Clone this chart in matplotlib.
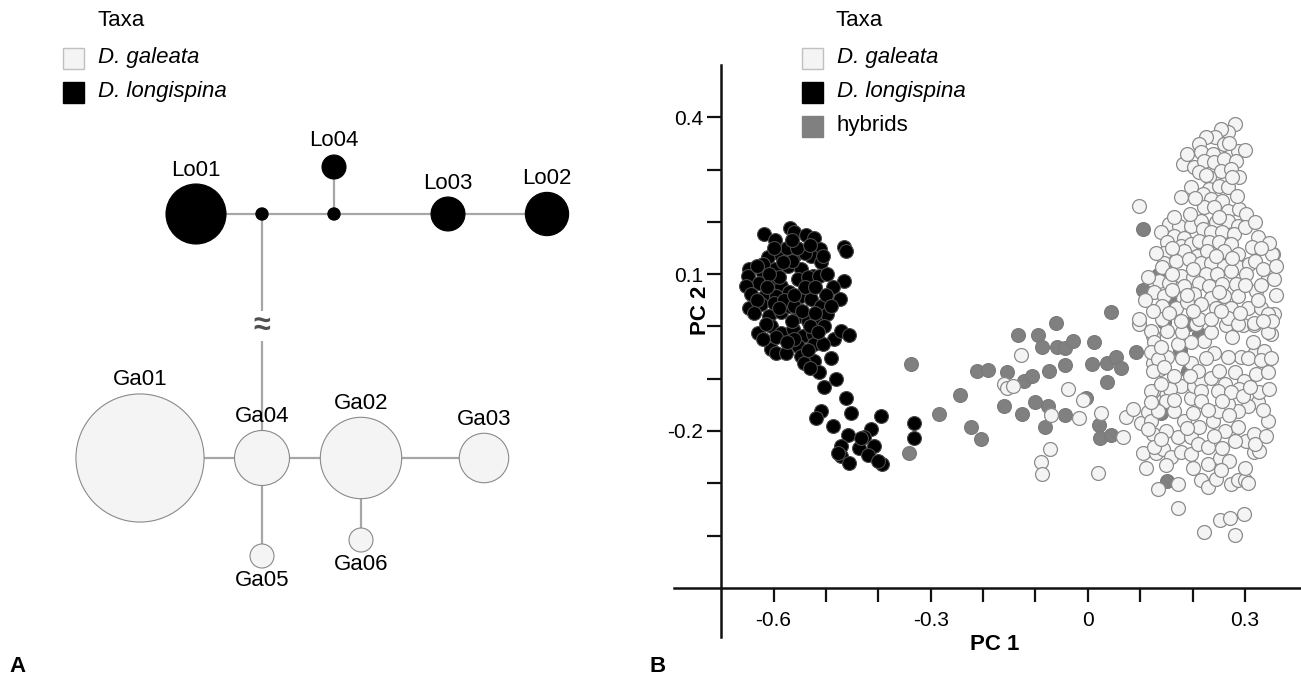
import numpy as np
import matplotlib
matplotlib.use("Agg")
import matplotlib.pyplot as plt
from matplotlib.patches import Circle, Rectangle

plt.rcParams['font.family'] = ['Liberation Sans', 'DejaVu Sans']

# ---- haplotype network (A) ----
haplotypes = ["Lo01", "Lo02", "Lo03", "Lo04", "Ga01", "Ga02", "Ga03", "Ga04", "Ga05", "Ga06"]
hap_counts = [25, 13, 8, 4, 114, 46, 17, 21, 4, 4]
hap_taxon = ["L", "L", "L", "L", "G", "G", "G", "G", "G", "G"]
median_vectors = ["mv1", "mv2"]
edges = [("Lo01", "mv1"), ("mv1", "mv2"), ("mv2", "Lo04"), ("mv2", "Lo03"),
         ("Lo03", "Lo02"), ("mv1", "Ga04"), ("Ga01", "Ga04"), ("Ga04", "Ga02"),
         ("Ga02", "Ga03"), ("Ga04", "Ga05"), ("Ga02", "Ga06")]
labels_below = ["Ga05", "Ga06"]

# ---- PCA scores (B) ----
longispina = [
    (-0.568, 0.188), (-0.619, 0.177), (-0.598, 0.166), (-0.560, 0.181), (-0.538, 0.174),
    (-0.523, 0.169), (-0.512, 0.148), (-0.465, 0.151), (-0.462, 0.145), (-0.611, 0.132),
    (-0.586, 0.137), (-0.560, 0.134), (-0.528, 0.135), (-0.509, 0.123), (-0.646, 0.110),
    (-0.621, 0.103), (-0.598, 0.110), (-0.573, 0.116), (-0.547, 0.110), (-0.525, 0.097),
    (-0.649, 0.097), (-0.627, 0.084), (-0.605, 0.087), (-0.586, 0.078), (-0.554, 0.091),
    (-0.535, 0.094), (-0.514, 0.096), (-0.465, 0.087), (-0.487, 0.075), (-0.474, 0.052),
    (-0.652, 0.078), (-0.643, 0.062), (-0.617, 0.059), (-0.595, 0.059), (-0.570, 0.065),
    (-0.547, 0.059), (-0.528, 0.052), (-0.509, 0.039), (-0.646, 0.036), (-0.624, 0.043),
    (-0.608, 0.020), (-0.586, 0.027), (-0.570, 0.039), (-0.554, 0.020), (-0.535, 0.011),
    (-0.512, 0.014), (-0.497, 0.023), (-0.630, -0.012), (-0.605, 0.001), (-0.586, -0.012),
    (-0.563, -0.005), (-0.544, -0.018), (-0.525, -0.015), (-0.503, 0.001), (-0.484, -0.024),
    (-0.471, -0.008), (-0.455, -0.017), (-0.605, -0.044), (-0.595, -0.050), (-0.576, -0.050),
    (-0.554, -0.037), (-0.547, -0.056), (-0.522, -0.034), (-0.506, -0.034), (-0.522, -0.066),
    (-0.541, -0.069), (-0.514, -0.088), (-0.481, -0.100), (-0.504, -0.115), (-0.462, -0.136),
    (-0.509, -0.162), (-0.519, -0.175), (-0.452, -0.165), (-0.395, -0.171), (-0.487, -0.191),
    (-0.458, -0.207), (-0.414, -0.197), (-0.427, -0.211), (-0.408, -0.229), (-0.471, -0.229),
    (-0.436, -0.232), (-0.471, -0.248), (-0.420, -0.246), (-0.455, -0.261), (-0.392, -0.264),
    (-0.401, -0.258), (-0.477, -0.242), (-0.433, -0.213), (-0.600, 0.045), (-0.580, 0.050),
    (-0.560, 0.040), (-0.590, 0.095), (-0.565, 0.125), (-0.540, 0.140), (-0.575, 0.150),
    (-0.620, 0.120), (-0.545, 0.030), (-0.530, 0.000), (-0.560, -0.025), (-0.540, 0.075),
    (-0.615, 0.005), (-0.500, 0.060), (-0.332, -0.184), (-0.332, -0.213),
    (-0.632, 0.115), (-0.608, 0.100), (-0.582, 0.123), (-0.556, 0.150), (-0.530, 0.155),
    (-0.505, 0.135), (-0.498, 0.100), (-0.520, 0.075), (-0.560, 0.060), (-0.612, 0.075),
    (-0.632, 0.050), (-0.590, 0.035), (-0.565, 0.010), (-0.520, 0.025), (-0.490, 0.040),
    (-0.595, -0.020), (-0.575, -0.030), (-0.535, -0.045), (-0.515, -0.010), (-0.565, 0.165),
    (-0.600, 0.150), (-0.638, 0.025), (-0.620, -0.025), (-0.490, -0.060), (-0.530, -0.080),
]

hybrids = [
    (-0.338, -0.071), (-0.341, -0.243), (-0.284, -0.168), (-0.244, -0.131), (-0.223, -0.193),
    (-0.203, -0.216), (-0.212, -0.086), (-0.191, -0.083), (-0.155, -0.088), (-0.134, -0.016),
    (-0.121, -0.104), (-0.106, -0.094), (-0.096, -0.016), (-0.088, -0.039), (-0.061, 0.006),
    (-0.059, -0.039), (-0.043, -0.041), (-0.029, -0.027), (-0.074, -0.085), (-0.044, -0.073),
    (-0.160, -0.152), (-0.125, -0.168), (-0.101, -0.145), (-0.077, -0.152), (-0.081, -0.193),
    (-0.043, -0.169), (-0.004, -0.136), (0.011, -0.029), (0.008, -0.071), (0.036, -0.069),
    (0.053, -0.058), (0.063, -0.080), (0.036, -0.107), (0.044, 0.027), (0.022, -0.188),
    (0.024, -0.214), (0.044, -0.207), (0.105, 0.187), (0.105, 0.069), (0.092, -0.048),
    (0.152, -0.295), (0.134, 0.098), (0.162, 0.050), (0.193, 0.005), (0.140, -0.165),
    (0.191, -0.085), (0.176, -0.045), (0.213, -0.014), (0.146, 0.008),
]

galeata = [
    # spread between the groups
    (-0.127, -0.055), (-0.160, -0.110), (-0.155, -0.118), (-0.142, -0.113), (-0.038, -0.119),
    (-0.010, -0.141), (-0.071, -0.169), (-0.017, -0.176), (0.025, -0.165), (0.072, -0.173),
    (0.068, -0.211), (-0.072, -0.235), (-0.090, -0.259), (-0.087, -0.283), (0.020, -0.280),
    # lower part of the main group
    (0.086, -0.158), (0.102, -0.184), (0.134, -0.310), (0.173, -0.302), (0.173, -0.348),
    (0.221, -0.394), (0.280, -0.398), (0.253, -0.371), (0.272, -0.367), (0.298, -0.358),
    (0.216, -0.294), (0.229, -0.308), (0.245, -0.292), (0.273, -0.302), (0.286, -0.294),
    (0.300, -0.294), (0.305, -0.299), (0.105, -0.243), (0.111, -0.270), (0.130, -0.243),
    (0.143, -0.235), (0.159, -0.250), (0.177, -0.241), (0.196, -0.244), (0.229, -0.264),
    (0.253, -0.251), (0.270, -0.257), (0.318, -0.241), (0.172, -0.212), (0.197, -0.211),
    (0.210, -0.225), (0.229, -0.230), (0.257, -0.232), (0.124, -0.206), (0.114, -0.163),
    (0.121, -0.181), (0.140, -0.133), (0.127, -0.139), (0.124, -0.123), (0.184, -0.181),
    (0.213, -0.193), (0.238, -0.181), (0.261, -0.200), (0.286, -0.193), (0.302, -0.219),
    (0.318, -0.206), (0.343, -0.181), (0.324, -0.145), (0.305, -0.152), (0.286, -0.161),
    (0.267, -0.149), (0.248, -0.161), (0.197, -0.136), (0.178, -0.114), (0.156, -0.120),
    (0.203, -0.114), (0.216, -0.104), (0.235, -0.098), (0.261, -0.110), (0.280, -0.088),
    (0.299, -0.104), (0.321, -0.091), (0.343, -0.088), (0.318, -0.053), (0.350, -0.015),
    (0.337, -0.047), (0.315, -0.030), (0.292, -0.059), (0.267, -0.059), (0.241, -0.050),
    (0.222, -0.027), (0.197, -0.030), (0.172, -0.034), (0.152, -0.008), (0.124, -0.018),
    (0.124, -0.069), (0.137, -0.082), (0.152, -0.059), (0.197, -0.069), (0.210, -0.085),
    (0.289, -0.120), (0.248, -0.123), (0.273, -0.126), (0.257, -0.142), (0.296, -0.133),
    (0.327, -0.126), (0.216, -0.123), (0.216, -0.142), (0.264, 0.002), (0.296, 0.002),
    (0.318, 0.002), (0.206, 0.005), (0.098, 0.005), (0.114, -0.196), (0.127, -0.231),
    (0.121, -0.008), (0.127, -0.030), (0.121, -0.049), (0.134, -0.062), (0.124, -0.085),
    (0.146, -0.078), (0.121, -0.123), (0.140, -0.110), (0.149, -0.142), (0.134, -0.161),
    (0.121, -0.145), (0.165, -0.161), (0.353, 0.139), (0.350, 0.094), (0.356, 0.024),
    (0.343, -0.011), (0.327, -0.238),
    (0.140, -0.040), (0.180, -0.010), (0.235, -0.010), (0.275, -0.020), (0.305, -0.060),
    (0.330, -0.065), (0.180, -0.060), (0.225, -0.060), (0.165, -0.095), (0.195, -0.095),
    (0.250, -0.085), (0.310, -0.115), (0.345, -0.120), (0.165, -0.140), (0.230, -0.160),
    (0.270, -0.170), (0.200, -0.165), (0.335, -0.160), (0.150, -0.200), (0.190, -0.195),
    (0.240, -0.210), (0.280, -0.220), (0.320, -0.225), (0.140, -0.215), (0.150, -0.265),
    (0.200, -0.270), (0.255, -0.275), (0.300, -0.270), (0.340, -0.210), (0.350, -0.060),
    # upper part of the main group
    (0.281, 0.387), (0.267, 0.371), (0.254, 0.378), (0.242, 0.362), (0.225, 0.363),
    (0.212, 0.349), (0.260, 0.349), (0.286, 0.336), (0.300, 0.338), (0.216, 0.333),
    (0.238, 0.330), (0.181, 0.311), (0.203, 0.304), (0.222, 0.317), (0.241, 0.314),
    (0.260, 0.320), (0.282, 0.317), (0.254, 0.298), (0.273, 0.301), (0.289, 0.285),
    (0.232, 0.285), (0.212, 0.295), (0.197, 0.266), (0.232, 0.263), (0.251, 0.269),
    (0.267, 0.266), (0.219, 0.253), (0.177, 0.247), (0.235, 0.244), (0.257, 0.240),
    (0.222, 0.228), (0.241, 0.228), (0.267, 0.221), (0.289, 0.225), (0.301, 0.215),
    (0.098, 0.231), (0.155, 0.196), (0.174, 0.193), (0.197, 0.193), (0.216, 0.202),
    (0.244, 0.199), (0.267, 0.202), (0.286, 0.193), (0.139, 0.180), (0.165, 0.173),
    (0.184, 0.170), (0.219, 0.186), (0.235, 0.180), (0.257, 0.180), (0.279, 0.177),
    (0.324, 0.171), (0.152, 0.161), (0.177, 0.154), (0.197, 0.157), (0.212, 0.164),
    (0.232, 0.161), (0.251, 0.161), (0.273, 0.157), (0.314, 0.151), (0.146, 0.141),
    (0.184, 0.145), (0.209, 0.135), (0.228, 0.145), (0.260, 0.145), (0.286, 0.138),
    (0.352, 0.138), (0.146, 0.122), (0.168, 0.125), (0.193, 0.129), (0.216, 0.122),
    (0.235, 0.122), (0.260, 0.116), (0.286, 0.113), (0.308, 0.119), (0.142, 0.113),
    (0.177, 0.097), (0.200, 0.094), (0.225, 0.100), (0.247, 0.100), (0.273, 0.106),
    (0.301, 0.100), (0.343, 0.097), (0.356, 0.090), (0.136, 0.087), (0.155, 0.084),
    (0.184, 0.078), (0.212, 0.084), (0.232, 0.078), (0.257, 0.081), (0.282, 0.081),
    (0.321, 0.068), (0.127, 0.065), (0.146, 0.058), (0.181, 0.055), (0.203, 0.062),
    (0.235, 0.055), (0.260, 0.058), (0.286, 0.058), (0.142, 0.039), (0.168, 0.036),
    (0.190, 0.046), (0.216, 0.042), (0.244, 0.036), (0.273, 0.036), (0.305, 0.036),
    (0.330, 0.036), (0.343, 0.023), (0.352, 0.011), (0.098, 0.014), (0.142, 0.014),
    (0.177, 0.011), (0.212, 0.014), (0.235, 0.014), (0.267, 0.017), (0.286, 0.004),
    (0.317, 0.007),
    (0.190, 0.330), (0.270, 0.350), (0.225, 0.290), (0.275, 0.285), (0.205, 0.245),
    (0.285, 0.250), (0.250, 0.210), (0.195, 0.215), (0.165, 0.210), (0.300, 0.190),
    (0.320, 0.200), (0.345, 0.160), (0.160, 0.150), (0.200, 0.110), (0.245, 0.135),
    (0.275, 0.130), (0.320, 0.125), (0.330, 0.150), (0.160, 0.100), (0.190, 0.060),
    (0.250, 0.065), (0.300, 0.080), (0.330, 0.080), (0.160, 0.070), (0.125, 0.030),
    (0.155, 0.025), (0.200, 0.030), (0.255, 0.030), (0.290, 0.025), (0.325, 0.050),
    (0.110, 0.050), (0.115, 0.095), (0.130, 0.140), (0.335, 0.010), (0.360, 0.060),
    (0.335, 0.110), (0.360, 0.115),
]

x_ticks = [-0.6, -0.5, -0.4, -0.3, -0.2, -0.1, 0.0, 0.1, 0.2, 0.3]
x_ticklabels = ["-0.6", "", "", "-0.3", "", "", "0", "", "", "0.3"]
y_ticks = [-0.4, -0.3, -0.2, -0.1, 0.0, 0.1, 0.2, 0.3, 0.4]
y_ticklabels = ["", "", "-0.2", "", "", "0.1", "", "", "0.4"]

GALEATA_FILL = "#f4f4f4"
GALEATA_EDGE = "#8c8c8c"
HYBRID_FILL = "#808080"
LINE_GREY = "#a6a6a6"

fig = plt.figure(figsize=(13.01, 6.82), dpi=100)

# canvas in pixel units for the network, legends and labels
ax0 = fig.add_axes([0, 0, 1, 1])
ax0.set_xlim(0, 1301)
ax0.set_ylim(682, 0)
ax0.axis("off")

layout = {
    "Lo01": (196, 214), "Lo02": (547, 214), "Lo03": (448, 214), "Lo04": (334, 167),
    "Ga01": (140, 458), "Ga02": (361, 458), "Ga03": (484, 458), "Ga04": (262, 458),
    "Ga05": (262, 556), "Ga06": (361, 540), "mv1": (262, 214), "mv2": (334, 214),
}

for a, b in edges:
    (x1, y1), (x2, y2) = layout[a], layout[b]
    ax0.plot([x1, x2], [y1, y2], color=LINE_GREY, lw=1.6, zorder=1, solid_capstyle="butt")

# break in the long branch between the two species
bx, by = layout["mv1"][0], (layout["mv1"][1] + layout["Ga04"][1]) / 2 - 10
ax0.text(bx, by, "\u2248", fontsize=22, fontweight="bold", color="#505050",
         ha="center", va="center", zorder=3,
         bbox=dict(boxstyle="square,pad=0.0", fc="white", ec="none"))

for name, n, tax in zip(haplotypes, hap_counts, hap_taxon):
    cx, cy = layout[name]
    r = 6.0 * np.sqrt(n)
    if tax == "L":
        ax0.add_patch(Circle((cx, cy), r, fc="black", ec="black", lw=0.8, zorder=2))
    else:
        ax0.add_patch(Circle((cx, cy), r, fc=GALEATA_FILL, ec="#8a8a8a", lw=0.8, zorder=2))
    ly = cy + r + 13 if name in labels_below else cy - r - 14
    ax0.text(cx, ly, name, fontsize=16, ha="center", va="center", zorder=4)

for mv in median_vectors:
    ax0.add_patch(Circle(layout[mv], 6, fc="black", ec="black", zorder=2))


def draw_legend(x0, entries):
    ax0.text(x0 + 34, 20, "Taxa", fontsize=16, ha="left", va="center")
    for i, (label, fc, ec, style) in enumerate(entries):
        yc = 58 + i * 34
        ax0.add_patch(Rectangle((x0, yc - 10.5), 21, 21, fc=fc, ec=ec, lw=1.0))
        ax0.text(x0 + 35, yc, label, fontsize=16, style=style, ha="left", va="center")


draw_legend(63, [("D. galeata", GALEATA_FILL, "#c0c0c0", "italic"),
                 ("D. longispina", "black", "black", "italic")])
draw_legend(802, [("D. galeata", GALEATA_FILL, "#c0c0c0", "italic"),
                  ("D. longispina", "black", "black", "italic"),
                  ("hybrids", HYBRID_FILL, HYBRID_FILL, "normal")])

ax0.text(17, 666, "A", fontsize=16, fontweight="bold", ha="center", va="center")
ax0.text(658, 666, "B", fontsize=16, fontweight="bold", ha="center", va="center")
ax0.text(995, 645, "PC 1", fontsize=16, fontweight="bold", ha="center", va="center")
ax0.text(700, 310, "PC 2", fontsize=16, fontweight="bold", ha="center", va="center",
         rotation=90)

# ---- PCA scatter ----
ax = fig.add_axes([674 / 1301, 1 - 637 / 682, 626 / 1301, 572 / 682])
ax.patch.set_visible(False)
ax.set_xlim(-0.79, 0.405)
ax.set_ylim(-0.594, 0.5)

lon = np.array(longispina)
hyb = np.array(hybrids)
gal = np.array(galeata)
ms = 100
ax.scatter(lon[:, 0], lon[:, 1], s=ms, c="black", edgecolors="#4a4a4a", linewidths=0.8,
           zorder=3)
ax.scatter(hyb[:, 0], hyb[:, 1], s=ms, c=HYBRID_FILL, edgecolors="#7a7a7a", linewidths=0.8,
           zorder=3)
ax.scatter(gal[:, 0], gal[:, 1], s=ms, c=GALEATA_FILL, edgecolors=GALEATA_EDGE,
           linewidths=0.9, zorder=4)

for side in ["top", "right"]:
    ax.spines[side].set_visible(False)
ax.spines["left"].set_position(("data", -0.7))
ax.spines["bottom"].set_position(("data", -0.5))
for side in ["left", "bottom"]:
    ax.spines[side].set_linewidth(1.8)
    ax.spines[side].set_color("#111111")

ax.set_xticks(x_ticks)
ax.set_xticklabels(x_ticklabels)
ax.set_yticks(y_ticks)
ax.set_yticklabels(y_ticklabels)
ax.tick_params(axis="both", direction="out", length=10, width=1.6, color="#111111",
               labelsize=15)
ax.tick_params(axis="x", pad=7)
ax.tick_params(axis="y", pad=3)
for lab in ax.get_xticklabels() + ax.get_yticklabels():
    lab.set_family(["Liberation Sans Narrow", "Liberation Sans"])

fig.savefig("out.png", dpi=100, facecolor="white")
